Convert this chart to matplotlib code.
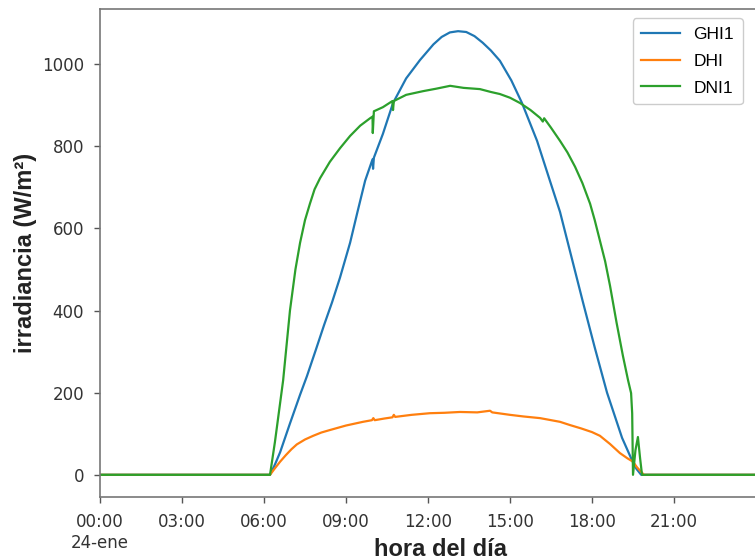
import matplotlib
matplotlib.use("Agg")
import matplotlib.pyplot as plt

# ---- data (hours of day, irradiance W/m2) ----
ghi_hours = [0, 6.22, 6.40, 6.59, 6.77, 6.95, 7.32, 7.57, 7.9, 8.2, 8.49, 8.78, 9.15, 9.42,
             9.70, 9.97, 9.99, 10.02, 10.35, 10.72, 11.2, 11.71, 12.2, 12.5, 12.8, 13.1, 13.4,
             13.7, 14.0, 14.3, 14.63, 15.05, 15.44, 15.99, 16.46, 16.83, 17.25, 17.67, 18.1,
             18.55, 18.85, 19.1, 19.46, 19.62, 19.8, 24]
ghi = [0, 0, 25, 55, 90, 125, 195, 240, 305, 365, 420, 480, 565, 640,
       716, 768, 745, 772, 830, 905, 965, 1010, 1048, 1066, 1077, 1080, 1078,
       1068, 1052, 1033, 1008, 960, 905, 813, 716, 640, 530, 420, 310,
       200, 140, 90, 36, 15, 0, 0]

dhi_hours = [0, 6.22, 6.40, 6.59, 6.8, 7.0, 7.2, 7.5, 7.8, 8.1, 8.41, 9.0, 9.62, 9.95, 10.0,
             10.05, 10.4, 10.7, 10.75, 10.8, 11.4, 12.07, 12.6, 13.17, 13.8, 14.27, 14.35,
             15.0, 15.5, 16.10, 16.83, 17.2, 17.6, 18.0, 18.29, 18.66, 19.02, 19.3, 19.5,
             19.65, 19.83, 19.9, 24]
dhi = [0, 0, 16, 32, 48, 62, 74, 86, 95, 103, 109, 120, 129, 133, 138,
       133, 137, 140, 146, 141, 146, 150, 151, 153, 152, 156, 152,
       146, 142, 138, 129, 121, 113, 104, 95, 75, 53, 40, 32,
       18, 5, 0, 0]

dni_hours = [0, 6.22, 6.40, 6.70, 6.95, 7.15, 7.32, 7.5, 7.68, 7.85, 8.05, 8.41, 8.78, 9.15,
             9.52, 9.88, 9.97, 9.98, 10.02, 10.35, 10.70, 10.72, 10.75, 11.2, 11.82, 12.3,
             12.81, 13.3, 13.90, 14.3, 14.63, 15.0, 15.37, 15.75, 16.10, 16.2, 16.25, 16.5,
             16.83, 17.1, 17.38, 17.65, 17.93, 18.1, 18.29, 18.48, 18.66, 18.9, 19.13, 19.32,
             19.43, 19.47, 19.50, 19.59, 19.68, 19.76, 19.83, 24]
dni = [0, 0, 80, 230, 400, 500, 565, 620, 660, 695, 722, 762, 795, 825,
       850, 868, 872, 832, 885, 895, 910, 888, 910, 925, 934, 940,
       947, 942, 939, 932, 927, 918, 905, 888, 869, 860, 868, 845,
       813, 785, 750, 710, 660, 620, 570, 520, 460, 370, 290, 230,
       199, 150, 0, 60, 92, 40, 0, 0]

tick_hours = [0, 3, 6, 9, 12, 15, 18, 21]
tick_labels = ["00:00\n24-ene", "03:00", "06:00", "09:00", "12:00", "15:00", "18:00", "21:00"]
y_ticks = [0, 200, 400, 600, 800, 1000]

series_names = ["GHI1", "DHI", "DNI1"]
colors = ["#1f77b4", "#ff7f0e", "#2ca02c"]

fig = plt.figure(figsize=(7.55, 5.58), dpi=100)
ax = fig.add_axes([100 / 755, (558 - 497) / 558, 656 / 755, (497 - 9) / 558])

for hrs, vals, name, c in zip([ghi_hours, dhi_hours, dni_hours], [ghi, dhi, dni], series_names, colors):
    ax.plot(hrs, vals, color=c, lw=1.6, label=name)

ax.set_xlim(0, 24)
ax.set_ylim(-54, 1134)
ax.set_xticks(tick_hours)
ax.set_xticklabels(tick_labels)
ax.set_yticks(y_ticks)

for s in ax.spines.values():
    s.set_color("#777777")
    s.set_linewidth(1.2)
ax.tick_params(axis="both", colors="#555555", labelcolor="#333333", labelsize=12,
               length=4.5, width=1, pad=7)

lab_font = dict(family="Liberation Sans", weight="bold", size=17, color="#222222")
ax.set_xlabel("hora del día", **lab_font)
ax.set_ylabel("irradiancia (W/m²)", **lab_font)
ax.xaxis.set_label_coords((440 - 100) / 656, -0.085)
ax.yaxis.set_label_coords(-(100 - 37) / 656, 0.5)

ax.legend(loc="upper right", prop=dict(family="Liberation Sans", size=12.5),
          handlelength=2.2, borderpad=0.5, labelspacing=0.67, framealpha=1,
          edgecolor="#cccccc", bbox_to_anchor=(0.993, 0.999))

fig.savefig("out.png", dpi=100)
